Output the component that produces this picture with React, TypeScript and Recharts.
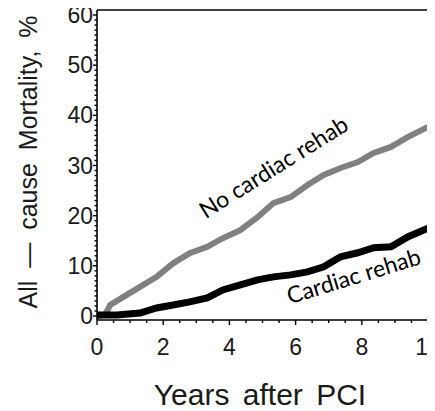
import React from "react";
import { LineChart, Line, XAxis, YAxis, ReferenceLine } from "recharts";

// Years after PCI (x) and all-cause mortality % (y)
const noRehabYears = [0, 0.24, 0.4, 0.8, 1.3, 1.8, 2.3, 2.8, 3.33, 3.8, 4.33, 4.85, 5.33, 5.85, 6.36, 6.85, 7.36, 7.88, 8.36, 8.88, 9.4, 10];
const noRehabMortality = [0, 0.2, 2.2, 3.8, 5.8, 7.8, 10.5, 12.5, 13.8, 15.5, 17.1, 19.7, 22.5, 23.7, 26.1, 28.1, 29.5, 30.7, 32.5, 33.7, 35.7, 37.7];

const rehabYears = [0, 0.6, 1.3, 1.8, 2.3, 2.8, 3.33, 3.8, 4.33, 4.85, 5.33, 5.85, 6.36, 6.85, 7.36, 7.88, 8.36, 8.88, 9.4, 10];
const rehabMortality = [0.2, 0.2, 0.6, 1.6, 2.2, 2.8, 3.6, 5.2, 6.2, 7.2, 7.8, 8.2, 8.8, 9.8, 11.8, 12.6, 13.6, 13.8, 15.8, 17.5];

const xMajorTicks = [0, 2, 4, 6, 8, 10];
const yMajorTicks = [0, 10, 20, 30, 40, 50, 60];
const xAllTicks = Array.from({ length: 21 }, (_, i) => i * 0.5);
const yAllTicks = Array.from({ length: 61 }, (_, i) => i);

const noRehabData = noRehabYears.map((x, i) => ({ x, y: noRehabMortality[i] }));
const rehabData = rehabYears.map((x, i) => ({ x, y: rehabMortality[i] }));

const AXIS_FONT = "'Liberation Sans', Arial, Helvetica, sans-serif";
const NOTE_FONT = "Lato, 'Open Sans', sans-serif";

const XTick = (props: any) => {
  const { x, y, payload } = props;
  const v = payload.value;
  const major = xMajorTicks.includes(v);
  return (
    <g>
      <line x1={x} x2={x} y1={y} y2={y + (major ? 5 : 3)} stroke="#000" strokeWidth={1.4} />
      {major && (
        <text x={x} y={y + 35} textAnchor="middle" fontSize={23} fontFamily={AXIS_FONT} fill="#1a1a1a">
          {v}
        </text>
      )}
    </g>
  );
};

const YTick = (props: any) => {
  const { x, y, payload } = props;
  const v = payload.value;
  const major = yMajorTicks.includes(v);
  return (
    <g>
      <line x1={x} x2={x - (major ? 4 : 2.5)} y1={y} y2={y} stroke="#000" strokeWidth={1.4} />
      {major && (
        <text x={x - 4} y={y + 8} textAnchor="end" fontSize={23} fontFamily={AXIS_FONT} fill="#1a1a1a">
          {v}
        </text>
      )}
    </g>
  );
};

export default function App() {
  return (
    <div style={{ width: 427, height: 411, marginTop: -8, background: "#fff" }}>
      <LineChart width={427} height={411} margin={{ top: 10, right: 7, left: 0, bottom: 0 }}>
        <XAxis
          type="number"
          dataKey="x"
          domain={[0, 10]}
          ticks={xAllTicks}
          interval={0}
          tickSize={0}
          tickMargin={0}
          tickLine={false}
          tick={<XTick />}
          height={91}
          axisLine={{ stroke: "#000", strokeWidth: 1.6 }}
          allowDataOverflow
        />
        <YAxis
          type="number"
          dataKey="y"
          domain={[-0.8, 61]}
          ticks={yAllTicks}
          interval={0}
          tickSize={0}
          tickMargin={0}
          tickLine={false}
          tick={<YTick />}
          width={89}
          axisLine={{ stroke: "#000", strokeWidth: 1.6 }}
          allowDataOverflow
        />
        <ReferenceLine y={61} stroke="#000" strokeWidth={1.6} />
        <ReferenceLine x={10} stroke="#000" strokeWidth={1.6} />
        <Line
          data={noRehabData}
          dataKey="y"
          type="linear"
          stroke="#808080"
          strokeWidth={6}
          dot={false}
          isAnimationActive={false}
        />
        <Line
          data={rehabData}
          dataKey="y"
          type="linear"
          stroke="#000"
          strokeWidth={7}
          dot={false}
          isAnimationActive={false}
        />
        <text
          transform="translate(270,174) rotate(-32)"
          textAnchor="middle"
          fontSize={23}
          fontFamily={NOTE_FONT}
          fill="#000"
        >
          No cardiac rehab
        </text>
        <text
          transform="translate(348,284) rotate(-17)"
          textAnchor="middle"
          fontSize={23}
          fontFamily={NOTE_FONT}
          fill="#000"
        >
          Cardiac rehab
        </text>
        <text
          transform="translate(29,162) rotate(-90)"
          textAnchor="middle"
          fontSize={25}
          wordSpacing={6}
          fontFamily={AXIS_FONT}
          fill="#1a1a1a"
        >
          All — cause Mortality, %
        </text>
        <text
          x={252}
          y={405}
          textAnchor="middle"
          fontSize={30}
          wordSpacing={5}
          fontFamily={AXIS_FONT}
          fill="#1a1a1a"
        >
          Years after PCI
        </text>
      </LineChart>
    </div>
  );
}
